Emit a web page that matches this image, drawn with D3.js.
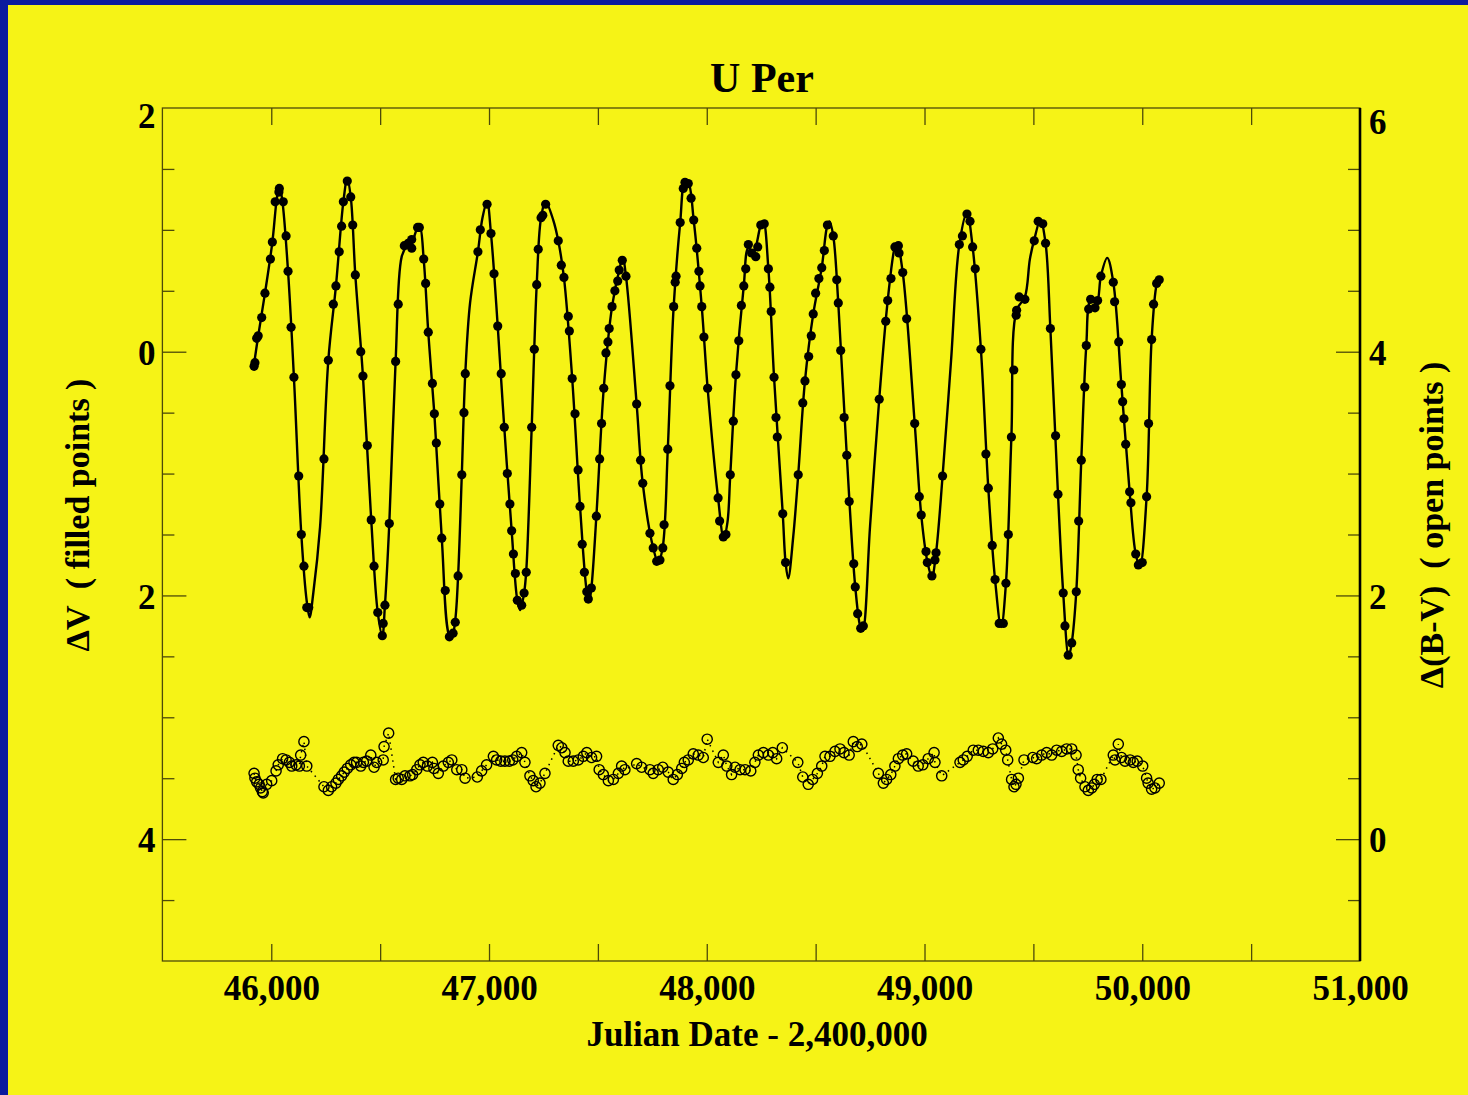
<!DOCTYPE html>
<html>
<head>
<meta charset="utf-8">
<script src="https://d3js.org/d3.v7.min.js"></script>
<style>
body { margin: 0; background: #f6f316; }
</style>
</head>
<body>
<div id="my_dataviz"></div>
<script>

// ---- data ----

// Delta V, filled points (JD - 2,400,000 ; magnitude)
var vJD = [45921,45925,45933,45940,45956,45971,45996,46005,46018,46035,46037,46055,46068,46077,46091,46104,46126,46138,46150,46163,46172,
46242,46262,46285,46297,46312,46323,46331,46349,46365,46374,46386,46411,46421,46441,46459,46472,46489,46510,46514,46522,
46542,46571,46583,46611,46629,46645,46645,46672,46680,
46700,46709,46721,46740,46749,46758,46774,46783,46799,46818,46835,46845,
46858,46875,46885,46891,46949,46960,46991,47009,
47023,47040,47056,47070,47084,47096,47104,47112,47121,47130,47150,47161,
47171,47196,47208,47219,47226,47239,47247,47260,
47318,47332,47344,47364,47369,47382,47395,47409,47418,47428,47438,47449,47456,47470,
47493,47508,47517,47527,47537,47546,47552,47565,47578,47591,47598,47612,47629,
47678,47696,47706,47739,47754,47770,47785,47798,47804,
47821,47831,47848,47855,47859,47878,47892,47900,47915,
47928,47940,47954,47964,47969,47977,47987,48004,48052,48059,48076,48088,
48108,48122,48134,48147,48159,48170,48179,48191,48206,48225,48234,48248,48264,
48283,48290,48296,48309,48318,48324,48349,48362,
48420,48441,48451,48468,48480,48489,48500,48515,48528,48540,48554,
48581,48597,48604,48615,48631,48643,48654,48675,48682,48693,48707,48719,
48792,48822,48831,48846,48864,48880,48883,
48900,48918,48955,48976,48985,49007,49013,49034,49048,49053,
49083,49160,49174,49195,49209,
49221,49233,49259,49282,49293,49311,49324,49343,49362,
49374,49385,49399,49410,49421,49423,49435,49461,49504,49522,49543,
49556,49578,49602,49613,49637,49645,49660,49676,
49697,49708,49720,49736,49743,49754,49763,49783,49795,49810,
49867,49873,49892,49904,49910,49916,49924,49942,49948,49970,49982,50000,
50020,50029,50043,50052,50066,50078];

var vMag = [0.12,0.09,-0.11,-0.13,-0.28,-0.48,-0.76,-0.90,-1.23,-1.31,-1.34,-1.23,-0.95,-0.66,-0.20,0.21,1.02,1.50,1.76,2.10,2.10,
0.88,0.07,-0.39,-0.54,-0.82,-1.03,-1.23,-1.40,-1.27,-1.04,-0.63,0.00,0.20,0.77,1.38,1.76,2.14,2.33,2.23,2.08,
1.41,0.08,-0.39,-0.87,-0.89,-0.92,-0.85,-1.02,-1.02,
-0.76,-0.56,-0.16,0.26,0.51,0.75,1.25,1.53,1.96,2.34,2.31,2.22,
1.84,1.01,0.50,0.18,-0.82,-1.00,-1.21,-0.97,
-0.64,-0.21,0.18,0.62,1.00,1.25,1.47,1.66,1.82,2.04,2.08,1.98,
1.81,0.62,-0.02,-0.55,-0.84,-1.10,-1.12,-1.21,
-0.91,-0.71,-0.61,-0.29,-0.17,0.22,0.51,0.97,1.27,1.58,1.81,1.97,2.03,1.94,
1.35,0.88,0.59,0.30,0.01,-0.08,-0.19,-0.37,-0.50,-0.58,-0.67,-0.75,-0.62,
0.43,0.89,1.08,1.49,1.61,1.72,1.71,1.61,1.42,
0.80,0.28,-0.37,-0.57,-0.62,-1.06,-1.34,-1.39,-1.38,
-1.26,-1.08,-0.85,-0.66,-0.54,-0.37,-0.12,0.30,1.20,1.39,1.52,1.50,
1.01,0.57,0.19,-0.09,-0.38,-0.54,-0.68,-0.88,-0.81,-0.78,-0.86,-1.04,-1.05,
-0.68,-0.53,-0.33,0.21,0.54,0.70,1.33,1.73,
1.01,0.42,0.24,0.04,-0.13,-0.31,-0.48,-0.60,-0.69,-0.83,-1.04,
-0.95,-0.59,-0.40,-0.01,0.54,0.85,1.23,1.74,1.93,2.15,2.27,2.25,
0.39,-0.25,-0.42,-0.60,-0.86,-0.87,-0.81,
-0.65,-0.27,0.59,1.19,1.34,1.64,1.73,1.84,1.71,1.65,
1.02,-0.88,-0.95,-1.13,-1.07,
-0.86,-0.68,-0.02,0.84,1.12,1.59,1.87,2.23,2.23,
1.90,1.50,0.70,0.15,-0.30,-0.34,-0.45,-0.43,-0.91,-1.07,-1.05,
-0.89,-0.19,0.69,1.17,1.98,2.25,2.49,2.39,
1.97,1.39,0.89,0.29,-0.05,-0.35,-0.43,-0.36,-0.42,-0.62,
-0.57,-0.41,-0.08,0.27,0.41,0.55,0.76,1.15,1.24,1.66,1.75,1.73,
1.19,0.59,-0.10,-0.39,-0.56,-0.59];

// the smooth fitted curve through the V points (knots)
var fitJD = [45921,45940,45971,46005,46025,46037,46050,46077,46104,46138,
46163,46176,46193,46224,46262,46297,46331,46349,46365,46386,
46421,46459,46489,46510,46522,46542,46571,46599,46625,46650,
46672,46682,46700,46721,46749,46783,46818,46830,46845,46858,
46875,46891,46913,46949,46970,46991,47009,47040,47070,47104,
47130,47143,47161,47171,47196,47219,47239,47260,47295,47318,
47344,47382,47418,47449,47460,47470,47493,47527,47565,47598,
47614,47629,47678,47706,47754,47777,47798,47821,47848,47878,
47900,47915,47940,47977,48004,48052,48078,48095,48108,48134,
48170,48191,48215,48248,48260,48283,48309,48349,48362,48374,
48397,48420,48451,48489,48528,48554,48564,48581,48604,48643,
48682,48707,48716,48750,48792,48831,48864,48874,48900,48955,
48985,49013,49034,49053,49083,49122,49160,49195,49221,49259,
49293,49324,49352,49374,49399,49423,49461,49484,49504,49532,
49556,49578,49613,49637,49662,49676,49697,49720,49743,49763,
49790,49810,49839,49867,49904,49942,49970,49989,50020,50043,
50066,50078];

var fitMag = [0.10,-0.13,-0.48,-0.90,-1.25,-1.36,-1.25,-0.66,0.21,1.50,
2.05,2.18,1.98,1.44,0.07,-0.54,-1.23,-1.42,-1.27,-0.63,
0.20,1.38,2.14,2.33,2.08,1.41,0.08,-0.78,-0.88,-0.92,
-1.02,-1.03,-0.76,-0.16,0.51,1.53,2.33,2.34,2.20,1.84,
1.01,0.18,-0.40,-0.82,-1.10,-1.23,-0.97,-0.21,0.62,1.47,
2.04,2.12,1.98,1.80,0.62,-0.55,-1.10,-1.23,-1.08,-0.91,
-0.61,0.22,1.27,1.97,2.05,1.94,1.35,0.30,-0.37,-0.67,
-0.77,-0.62,0.43,1.08,1.61,1.73,1.60,0.80,-0.37,-1.06,
-1.40,-1.39,-1.08,-0.37,0.30,1.20,1.53,1.40,1.01,0.19,
-0.54,-0.85,-0.82,-1.04,-1.07,-0.68,0.21,1.33,1.73,1.86,
1.52,1.01,0.24,-0.31,-0.69,-1.04,-1.07,-0.95,-0.40,0.85,
1.93,2.27,2.29,1.43,0.39,-0.42,-0.86,-0.89,-0.65,0.59,
1.34,1.72,1.85,1.65,1.02,0.07,-0.88,-1.14,-0.86,-0.02,
1.12,1.87,2.26,1.90,0.70,-0.34,-0.45,-0.76,-0.92,-1.08,
-0.89,-0.19,1.17,1.98,2.50,2.39,1.97,0.89,-0.05,-0.42,
-0.40,-0.62,-0.77,-0.57,0.27,1.15,1.66,1.76,1.19,-0.10,
-0.55,-0.60];

// Delta(B-V), open points
var bvJD = [45921,45925,45933,45944,45951,45959,45963,45979,46002,46022,46032,46052,46068,46083,46094,46114,46129,46135,46150,46163,
46242,46262,46277,46297,46308,46323,46335,46349,46365,46380,46392,46411,46423,46438,46457,46472,46484,46514,46518,46539,
46571,46583,46599,46614,46637,46649,46668,46683,46698,46717,46740,46747,46767,46790,46813,46829,46852,46875,46890,
46946,46966,46989,47020,47035,47054,47073,47093,47109,47127,47150,47165,47188,47203,47216,47234,47257,
47318,47334,47349,47364,47387,47410,47433,47449,47471,47494,47506,47525,47548,47571,47594,47609,47624,
47678,47701,47739,47754,47777,47798,47823,47846,47865,47885,47897,47915,47938,47961,47984,48002,
48053,48076,48092,48114,48130,48153,48176,48202,48221,48237,48260,48283,48303,48321,48347,
48418,48441,48466,48486,48508,48528,48543,48566,48589,48612,48630,48654,48673,48691,48712,
48788,48811,48826,48845,48864,48880,48900,48918,48948,48971,48992,49017,49044,49048,49079,
49163,49178,49196,49224,49247,49270,49293,49313,49339,49354,49373,49382,49400,49411,49420,49431,
49457,49497,49515,49538,49561,49584,49607,49630,49653,49676,49696,49706,49717,49737,49752,49768,49780,49793,49810,
49867,49875,49890,49905,49921,49944,49959,49977,50002,50020,50027,50043,50058,50078];

var bvVal = [0.54,0.50,0.47,0.45,0.42,0.39,0.38,0.45,0.48,0.56,0.61,0.66,0.65,0.63,0.60,0.61,0.60,0.69,0.80,0.60,
0.43,0.40,0.43,0.46,0.49,0.52,0.55,0.58,0.61,0.63,0.63,0.60,0.63,0.64,0.69,0.59,0.63,0.65,0.76,0.87,
0.49,0.50,0.49,0.52,0.52,0.53,0.57,0.61,0.63,0.60,0.63,0.58,0.54,0.60,0.63,0.65,0.57,0.57,0.50,
0.51,0.56,0.61,0.68,0.65,0.64,0.64,0.64,0.65,0.68,0.71,0.63,0.52,0.48,0.43,0.46,0.54,
0.77,0.75,0.71,0.64,0.64,0.65,0.68,0.71,0.67,0.68,0.57,0.53,0.48,0.49,0.54,0.60,0.57,
0.62,0.59,0.57,0.54,0.57,0.59,0.55,0.49,0.53,0.58,0.63,0.65,0.70,0.69,0.67,0.82,
0.63,0.69,0.60,0.53,0.59,0.57,0.57,0.56,0.63,0.69,0.71,0.69,0.71,0.66,0.75,
0.63,0.51,0.45,0.49,0.54,0.60,0.68,0.68,0.72,0.74,0.71,0.69,0.80,0.76,0.78,
0.54,0.46,0.49,0.53,0.60,0.66,0.69,0.70,0.64,0.60,0.61,0.66,0.71,0.63,0.52,
0.63,0.65,0.68,0.73,0.73,0.72,0.71,0.74,0.83,0.78,0.73,0.65,0.49,0.43,0.45,0.50,
0.65,0.67,0.66,0.69,0.71,0.69,0.73,0.72,0.74,0.74,0.69,0.57,0.50,0.43,0.40,0.42,0.45,0.49,0.49,
0.69,0.65,0.78,0.67,0.64,0.65,0.63,0.64,0.60,0.50,0.46,0.41,0.42,0.46];

// tick values and labels
var xTicksAll = [46000,46500,47000,47500,48000,48500,49000,49500,50000,50500];
var xLabelTicks = [46000,47000,48000,49000,50000,51000];
var yLeftTicks = [-2,0,2,4];
var yLeftTickLabels = ["2","0","2","4"];
var yLeftMinor = [-1.5,-1,-0.5,0.5,1,1.5,2.5,3,3.5,4.5];
var yRightTicks = [6,4,2,0];
var yRightMinor = [5.5,5,4.5,3.5,3,2.5,1.5,1,0.5,-0.5];

// ---- layout ----
var W = 1468, H = 1095;
var margin = {top: 108, right: 108, bottom: 134, left: 162.4},
width = W - margin.left - margin.right,
height = H - margin.top - margin.bottom;

var yellow = "#f6f316", blue = "#0b1b9e", frameCol = "#4d4a08";
var font = "'Liberation Serif', 'DejaVu Serif', serif";

var root = d3.select("#my_dataviz")
.append("svg")
.attr("width", W)
.attr("height", H);

root.append("rect").attr("width", W).attr("height", H).attr("fill", yellow);
root.append("rect").attr("x", 0).attr("y", 0).attr("width", 8).attr("height", H).attr("fill", blue);
root.append("rect").attr("x", 0).attr("y", 0).attr("width", W).attr("height", 5).attr("fill", blue);

var svg = root.append("g")
.attr("transform", "translate(" + margin.left + "," + margin.top + ")");

// scales
var x = d3.scaleLinear().domain([45500, 51000]).range([0, width]);
var yL = d3.scaleLinear().domain([-2, 5]).range([0, height]);
var yR = d3.scaleLinear().domain([6, -1]).range([0, height]);

function styleTicks(g) {
  g.select(".domain").remove();
  g.selectAll(".tick line").attr("stroke", frameCol).attr("stroke-width", 1.3);
}
function styleLabels(g, size) {
  g.select(".domain").remove();
  g.selectAll("text")
    .attr("fill", "#000")
    .style("font-family", font)
    .style("font-weight", "bold")
    .style("font-size", size + "px");
}

// frame
svg.append("rect")
.attr("width", width).attr("height", height)
.attr("fill", "none").attr("stroke", frameCol).attr("stroke-width", 1.3);

// x ticks, bottom (inward) and top (inward)
svg.append("g").attr("transform", "translate(0," + height + ")")
.call(d3.axisTop(x).tickValues(xTicksAll).tickSize(17).tickFormat(""))
.call(styleTicks);
svg.append("g")
.call(d3.axisBottom(x).tickValues(xTicksAll).tickSize(17).tickFormat(""))
.call(styleTicks);

// x labels
svg.append("g").attr("transform", "translate(0," + height + ")")
.call(d3.axisBottom(x).tickValues(xLabelTicks).tickFormat(d3.format(",")).tickSize(0).tickPadding(14))
.call(function(g) { styleLabels(g, 35); });

// left ticks
svg.append("g")
.call(d3.axisRight(yL).tickValues(yLeftMinor).tickSize(12).tickFormat(""))
.call(styleTicks);
svg.append("g")
.call(d3.axisRight(yL).tickValues([0, 2, 4]).tickSize(24).tickFormat(""))
.call(styleTicks);
svg.append("g")
.call(d3.axisLeft(yL).tickValues(yLeftTicks).tickSize(0).tickPadding(7)
  .tickFormat(function(d, i) { return yLeftTickLabels[i]; }))
.call(function(g) { styleLabels(g, 35); })
.selectAll("text").attr("dy", function(d) { return d === -2 ? "0.55em" : "0.36em"; });

// right axis
svg.append("g").attr("transform", "translate(" + width + ",0)")
.call(d3.axisLeft(yR).tickValues(yRightMinor).tickSize(12).tickFormat(""))
.call(styleTicks);
svg.append("g").attr("transform", "translate(" + width + ",0)")
.call(d3.axisLeft(yR).tickValues([4, 2, 0]).tickSize(24).tickFormat(""))
.call(styleTicks);
svg.append("g").attr("transform", "translate(" + width + ",0)")
.call(d3.axisRight(yR).tickValues(yRightTicks).tickSize(0).tickPadding(9).tickFormat(d3.format("d")))
.call(function(g) { styleLabels(g, 35); })
.selectAll("text").attr("dy", function(d) { return d === 6 ? "0.72em" : "0.36em"; });
svg.append("line")
.attr("x1", width).attr("x2", width).attr("y1", 0).attr("y2", height)
.attr("stroke", "#000").attr("stroke-width", 2.6);

// ---- marks ----
var vData = d3.zip(vJD, vMag);
var fitData = d3.zip(fitJD, fitMag);
var bvData = d3.zip(bvJD, bvVal);

// open points: dotted joining line, then circles
svg.append("path")
.datum(bvData)
.attr("fill", "none")
.attr("stroke", "#000")
.attr("stroke-width", 1.5)
.attr("stroke-dasharray", "1.5,4.5")
.attr("d", d3.line().x(function(d) { return x(d[0]); }).y(function(d) { return yR(d[1]); }));

svg.selectAll(".bv")
.data(bvData)
.enter()
.append("circle")
.attr("class", "bv")
.attr("cx", function(d) { return x(d[0]); })
.attr("cy", function(d) { return yR(d[1]); })
.attr("r", 5.1)
.attr("fill", "none")
.attr("stroke", "#000")
.attr("stroke-width", 1.4);

// fitted curve
svg.append("path")
.datum(fitData)
.attr("fill", "none")
.attr("stroke", "#000")
.attr("stroke-width", 2.4)
.attr("stroke-linejoin", "round")
.attr("d", d3.line()
  .curve(d3.curveCatmullRom.alpha(0.5))
  .x(function(d) { return x(d[0]); })
  .y(function(d) { return yL(d[1]); }));

// filled points
svg.selectAll(".v")
.data(vData)
.enter()
.append("circle")
.attr("class", "v")
.attr("cx", function(d) { return x(d[0]); })
.attr("cy", function(d) { return yL(d[1]); })
.attr("r", 4.6)
.attr("fill", "#000");

// ---- titles ----
root.append("text")
.attr("x", 762).attr("y", 92)
.attr("text-anchor", "middle")
.style("font-family", font).style("font-weight", "bold").style("font-size", "42px")
.text("U Per");

root.append("text")
.attr("x", 757).attr("y", 1046)
.attr("text-anchor", "middle")
.style("font-family", font).style("font-weight", "bold").style("font-size", "35px")
.text("Julian Date - 2,400,000");

root.append("text")
.attr("transform", "translate(89,515) rotate(-90)")
.attr("text-anchor", "middle")
.style("font-family", font).style("font-weight", "bold").style("font-size", "34px")
.style("white-space", "pre")
.text("\u0394V  ( filled points )");

root.append("text")
.attr("transform", "translate(1443,525) rotate(-90)")
.attr("text-anchor", "middle")
.style("font-family", font).style("font-weight", "bold").style("font-size", "34px")
.style("white-space", "pre")
.text("\u0394(B-V)  ( open points )");

</script>
</body>
</html>
